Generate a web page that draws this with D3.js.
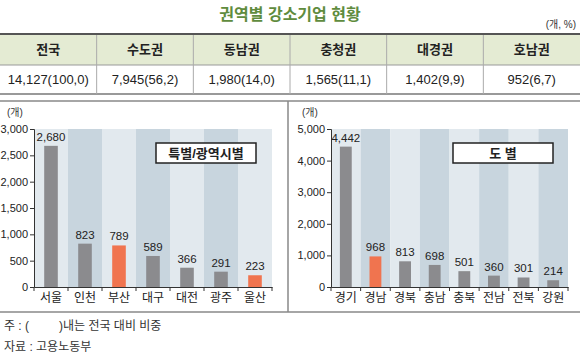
<!DOCTYPE html>
<html>
<head>
<meta charset="utf-8">
<script src="https://cdn.jsdelivr.net/npm/d3@7"></script>
<style>
  body { margin: 0; background: #fff; }
  text { font-family: "Liberation Sans", "Noto Sans CJK KR", sans-serif; }
</style>
</head>
<body>
<svg id="chart"></svg>
<script>
var viewWidth = 580;
var viewHeight = 360;

// table data
var regions = ["전국", "수도권", "동남권", "충청권", "대경권", "호남권"];
var regionCounts = [14127, 7945, 1980, 1565, 1402, 952];
var regionShares = [100.0, 56.2, 14.0, 11.1, 9.9, 6.7];

// left chart: 특별/광역시
var cities = ["서울", "인천", "부산", "대구", "대전", "광주", "울산"];
var cityValues = [2680, 823, 789, 589, 366, 291, 223];
var cityHighlight = ["부산", "울산"];
var cityTicks = [0, 500, 1000, 1500, 2000, 2500, 3000];

// right chart: 도
var provinces = ["경기", "경남", "경북", "충남", "충북", "전남", "전북", "강원"];
var provinceValues = [4442, 968, 813, 698, 501, 360, 301, 214];
var provinceHighlight = ["경남"];
var provinceTicks = [0, 1000, 2000, 3000, 4000, 5000];

var gray = "#8b8b8e", orange = "#f0744f";
var lightBand = "#e2e9ee", darkBand = "#c8d5de";
var fmt = d3.format(",");

var svg = d3.select("#chart")
    .attr("width", viewWidth)
    .attr("height", viewHeight);

// title
svg.append("text")
    .attr("x", 290).attr("y", 20)
    .attr("text-anchor", "middle")
    .style("font-size", "16px")
    .style("font-weight", "bold")
    .style("fill", "#5f8c3e")
    .text("권역별 강소기업 현황");

svg.append("text")
    .attr("x", 576).attr("y", 28)
    .attr("text-anchor", "end")
    .style("font-size", "10px")
    .style("fill", "#333")
    .text("(개, %)");

// table
var col = d3.scaleBand().domain(regions).range([0, 580]);

svg.append("rect")
    .attr("x", 0).attr("y", 34).attr("width", 580).attr("height", 31)
    .style("fill", "#e4ebd3");

svg.append("line").attr("x1", 0).attr("x2", 580).attr("y1", 34).attr("y2", 34)
    .style("stroke", "#555").style("stroke-width", 2);
svg.append("line").attr("x1", 0).attr("x2", 580).attr("y1", 65).attr("y2", 65)
    .style("stroke", "#999").style("stroke-width", 1);
svg.append("line").attr("x1", 0).attr("x2", 580).attr("y1", 94).attr("y2", 94)
    .style("stroke", "#777").style("stroke-width", 1.5);

svg.selectAll(".colsep")
    .data(regions.slice(1))
  .enter().append("line")
    .attr("class", "colsep")
    .attr("x1", function(d) { return col(d); })
    .attr("x2", function(d) { return col(d); })
    .attr("y1", 35).attr("y2", 94)
    .style("stroke", "#aaa");

svg.selectAll(".thead")
    .data(regions)
  .enter().append("text")
    .attr("class", "thead")
    .attr("x", function(d) { return col(d) + col.bandwidth() / 2; })
    .attr("y", 54)
    .attr("text-anchor", "middle")
    .style("font-size", "13px")
    .style("font-weight", "bold")
    .style("fill", "#222")
    .text(function(d) { return d; });

svg.selectAll(".tcell")
    .data(regions)
  .enter().append("text")
    .attr("class", "tcell")
    .attr("x", function(d) { return col(d) + col.bandwidth() / 2; })
    .attr("y", 84)
    .attr("text-anchor", "middle")
    .style("font-size", "13px")
    .style("fill", "#222")
    .text(function(d, i) {
      return fmt(regionCounts[i]) + "(" + regionShares[i].toFixed(1).replace(".", ",") + ")";
    });

// panel frame
svg.append("line").attr("x1", 0).attr("x2", 580).attr("y1", 101).attr("y2", 101)
    .style("stroke", "#888").style("stroke-width", 1.5);
svg.append("line").attr("x1", 0).attr("x2", 580).attr("y1", 312).attr("y2", 312)
    .style("stroke", "#888").style("stroke-width", 1.5);
svg.append("line").attr("x1", 288).attr("x2", 288).attr("y1", 101).attr("y2", 312)
    .style("stroke", "#888").style("stroke-width", 1.5);

function drawPanel(opts) {
  var g = svg.append("g");

  var x = d3.scaleBand()
      .domain(opts.names)
      .range([opts.left, opts.right]);
  var y = d3.scaleLinear()
      .domain([0, opts.max])
      .range([287, 129]);

  // stripes
  g.selectAll(".band")
      .data(opts.names)
    .enter().append("rect")
      .attr("x", function(d) { return x(d); })
      .attr("y", y(opts.max))
      .attr("width", x.bandwidth())
      .attr("height", y(0) - y(opts.max))
      .style("fill", function(d, i) { return i % 2 ? darkBand : lightBand; });

  var bw = x.bandwidth() * 0.4;

  g.selectAll(".bar")
      .data(opts.values)
    .enter().append("rect")
      .attr("x", function(d, i) { return x(opts.names[i]) + (x.bandwidth() - bw) / 2; })
      .attr("y", function(d) { return y(d); })
      .attr("width", bw)
      .attr("height", function(d) { return y(0) - y(d); })
      .style("fill", function(d, i) {
        return opts.highlight.indexOf(opts.names[i]) >= 0 ? orange : gray;
      });

  g.selectAll(".vlabel")
      .data(opts.values)
    .enter().append("text")
      .attr("x", function(d, i) { return x(opts.names[i]) + x.bandwidth() / 2; })
      .attr("y", function(d) { return y(d) - 5; })
      .attr("text-anchor", "middle")
      .style("font-size", "11.5px")
      .style("fill", "#222")
      .text(function(d) { return fmt(d); });

  // y axis
  var yAxis = d3.axisLeft(y)
      .tickValues(opts.ticks)
      .tickFormat(fmt)
      .tickSize(4)
      .tickPadding(2);
  var ya = g.append("g")
      .attr("transform", "translate(" + opts.left + ",0)")
      .call(yAxis);
  ya.select(".domain").style("stroke", "#333");
  ya.selectAll(".tick line").style("stroke", "#333");
  ya.selectAll("text")
      .style("font-size", "11px")
      .style("fill", "#222")
      .style("font-family", "'Liberation Sans', sans-serif");

  // x axis: labels in bands, ticks at band edges
  var xAxis = d3.axisBottom(x).tickSize(0).tickPadding(6);
  var xa = g.append("g")
      .attr("transform", "translate(0," + y(0) + ")")
      .call(xAxis);
  xa.select(".domain").style("stroke", "#333");
  xa.selectAll("text")
      .style("font-size", "12px")
      .style("fill", "#222")
      .style("font-family", "'Noto Sans CJK KR', sans-serif");

  var edges = opts.names.map(function(d) { return x(d); }).concat([opts.right]);
  g.selectAll(".xtick")
      .data(edges)
    .enter().append("line")
      .attr("x1", function(d) { return d; })
      .attr("x2", function(d) { return d; })
      .attr("y1", y(0))
      .attr("y2", y(0) + 4)
      .style("stroke", "#333");

  // unit
  g.append("text")
      .attr("x", opts.unitX).attr("y", 116)
      .style("font-size", "10px")
      .style("fill", "#333")
      .text("(개)");

  // legend box
  g.append("rect")
      .attr("x", opts.box[0]).attr("y", 143)
      .attr("width", opts.box[1] - opts.box[0]).attr("height", 20)
      .style("fill", "#fff")
      .style("stroke", "#222")
      .style("stroke-width", 1.5);
  g.append("text")
      .attr("x", (opts.box[0] + opts.box[1]) / 2).attr("y", 158)
      .attr("text-anchor", "middle")
      .style("font-size", "13px")
      .style("font-weight", "bold")
      .style("fill", "#222")
      .text(opts.title);
}

drawPanel({
  names: cities, values: cityValues, highlight: cityHighlight,
  max: 3000, ticks: cityTicks, left: 34, right: 272,
  unitX: 7, box: [156, 256], title: "특별/광역시별"
});

drawPanel({
  names: provinces, values: provinceValues, highlight: provinceHighlight,
  max: 5000, ticks: provinceTicks, left: 331, right: 568,
  unitX: 302, box: [453, 553], title: "도 별"
});

// notes
svg.append("text")
    .attr("x", 4).attr("y", 330)
    .style("font-size", "12px")
    .style("fill", "#333")
    .style("white-space", "pre")
    .text("주 : (         )내는 전국 대비 비중");
svg.append("text")
    .attr("x", 4).attr("y", 351)
    .style("font-size", "12px")
    .style("fill", "#333")
    .text("자료 : 고용노동부");
</script>
</body>
</html>
